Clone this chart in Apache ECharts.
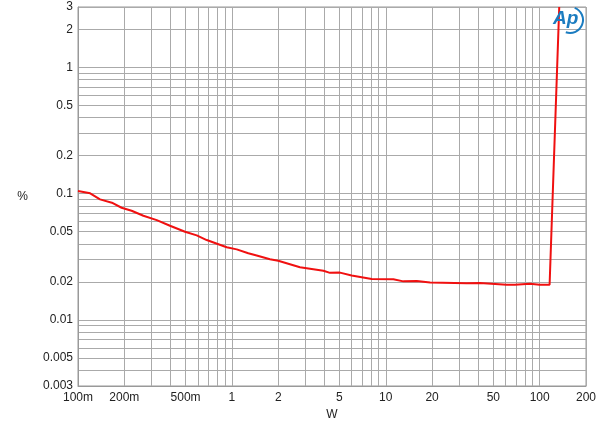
<!DOCTYPE html>
<html>
<head>
<meta charset="utf-8">
<script src="https://cdn.jsdelivr.net/npm/echarts@6/dist/echarts.min.js"></script>
<style>html,body{margin:0;padding:0;background:#fff;}#c{width:600px;height:430px;}</style>
</head>
<body>
<div id="c"></div>
<script>
// Output power (W) and THD+N (%)
var powerW = [0.1, 0.12, 0.139, 0.166, 0.192, 0.223, 0.266, 0.325, 0.396, 0.496, 0.591, 0.686, 0.925, 1.075, 1.278, 1.449, 1.768, 2.0, 2.77, 3.93, 4.34, 5.04, 5.17, 6.0, 6.97, 8.1, 11.2, 13.0, 15.9, 19.4, 33.5, 40.9, 61, 69, 86.5, 100, 116, 134];
var thdPct = [0.105, 0.1005, 0.090, 0.0847, 0.0773, 0.0732, 0.0668, 0.0617, 0.0557, 0.0499, 0.0467, 0.0429, 0.0376, 0.0362, 0.0337, 0.0324, 0.0302, 0.0294, 0.0261, 0.0245, 0.0236, 0.0237, 0.0236, 0.0225, 0.0218, 0.0211, 0.0210, 0.0202, 0.0203, 0.0198, 0.0195, 0.0196, 0.0190, 0.0190, 0.0193, 0.0190, 0.0190, 3.0];

// Tick labels
var xTickLabels = [0.1, 0.2, 0.5, 1, 2, 5, 10, 20, 50, 100, 200];
var yTickLabels = [0.003, 0.005, 0.01, 0.02, 0.05, 0.1, 0.2, 0.5, 1, 2, 3];

// Grid lines
var xGridLines = [0.1, 0.2, 0.3, 0.4, 0.5, 0.6, 0.7, 0.8, 0.9, 1, 2, 3, 4, 5, 6, 7, 8, 9, 10, 20, 30, 40, 50, 60, 70, 80, 90, 100, 200];
var yGridLines = [0.003, 0.004, 0.005, 0.006, 0.007, 0.008, 0.009, 0.01, 0.02, 0.03, 0.04, 0.05, 0.06, 0.07, 0.08, 0.09, 0.1, 0.2, 0.3, 0.4, 0.5, 0.6, 0.7, 0.8, 0.9, 1, 2, 3];

var seriesData = powerW.map(function (p, i) { return [p, thdPct[i]]; });

function fmtX(v) {
  if (v < 1) return Math.round(v * 1000) + 'm';
  return String(Math.round(v));
}
function fmtY(v) {
  return String(parseFloat(v.toPrecision(3)));
}

var chart = echarts.init(document.getElementById('c'), null, { renderer: 'canvas' });
var gridColor = '#aaaaaa';
var font = 'Arial, "Liberation Sans", sans-serif';
chart.setOption({
  animation: false,
  backgroundColor: '#ffffff',
  grid: { left: 78, right: 14, top: 7, bottom: 44, show: true, borderColor: '#999999', borderWidth: 1 },
  xAxis: {
    type: 'log', logBase: 10, min: 0.1, max: 200,
    name: 'W', nameLocation: 'middle', nameGap: 23,
    nameTextStyle: { color: '#222', fontSize: 12, fontFamily: font },
    axisLine: { show: true, lineStyle: { color: '#999999' } },
    axisTick: { show: false, customValues: xGridLines },
    splitLine: { show: true, lineStyle: { color: gridColor, width: 1 } },
    minorSplitLine: { show: false },
    axisLabel: { customValues: xTickLabels, formatter: fmtX, color: '#222', fontSize: 12, fontFamily: font, margin: 6, showMinLabel: true, showMaxLabel: true }
  },
  yAxis: {
    type: 'log', logBase: 10, min: 0.003, max: 3,
    name: '%', nameLocation: 'middle', nameGap: 50, nameRotate: 0,
    nameTextStyle: { color: '#222', fontSize: 12, fontFamily: font },
    axisLine: { show: true, lineStyle: { color: '#999999' } },
    axisTick: { show: false, customValues: yGridLines },
    splitLine: { show: true, lineStyle: { color: gridColor, width: 1 } },
    axisLabel: { customValues: yTickLabels, formatter: fmtY, color: '#222', fontSize: 12, fontFamily: font, margin: 5, showMinLabel: true, showMaxLabel: true }
  },
  graphic: [
    { type: 'text', left: 553, top: 9, style: { text: 'Ap', fill: '#1b7cc0', font: 'italic bold 19px Arial, sans-serif' }, z: 100 },
    { type: 'arc', shape: { cx: 570, cy: 20, r: 13, startAngle: -1.2, endAngle: 1.9 }, style: { stroke: '#1b7cc0', lineWidth: 2, fill: null }, z: 100 }
  ],
  series: [{
    type: 'line',
    data: seriesData,
    showSymbol: false,
    symbol: 'none',
    clip: true,
    lineStyle: { color: '#f01010', width: 2 },
    itemStyle: { color: '#f01010' }
  }]
});
</script>
</body>
</html>
